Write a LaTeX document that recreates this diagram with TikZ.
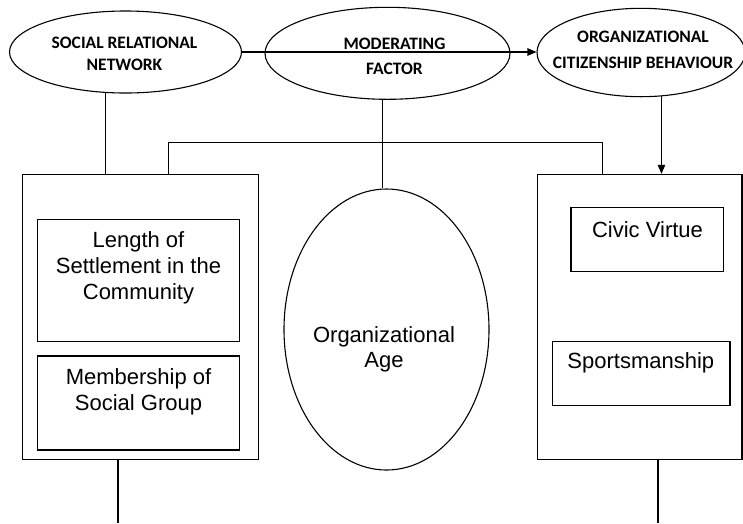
\documentclass[tikz,border=0pt]{standalone}
\usepackage{fontspec}
\setmainfont{Liberation Sans}
\newfontfamily\headfont{Carlito}
\usetikzlibrary{shapes.geometric,arrows.meta}

\begin{document}
\begin{tikzpicture}[x=1pt,y=-1pt,
  line width=1.1pt,
  oval/.style={ellipse, draw, inner sep=0pt},
  frame/.style={rectangle, draw, inner sep=0pt},
  heading/.style={font=\headfont\bfseries\fontsize{17.5}{#1}\selectfont, align=center, inner sep=0pt},
  heading/.default=25,
  body/.style={font=\fontsize{22}{25.8}\selectfont, align=center, inner sep=0pt},
  tip/.style={-{Triangle[length=9pt,width=7.5pt]}}
]
\useasboundingbox (0,0) rectangle (743,523);

% top row of concepts
\node[oval, minimum width=232pt, minimum height=82pt] (srn) at (125.5,52) {};
\node[oval, minimum width=245pt, minimum height=92pt] (mf) at (387.5,53.3) {};
\node[oval, minimum width=208pt, minimum height=88.4pt] (ocb) at (641,52.5) {};
\node[heading=22.6] (srnt) at (124.5,54) {SOCIAL RELATIONAL\\NETWORK};
\node[heading=25.7] (mft) at (394.5,56.2) {MODERATING\\FACTOR};
\node[heading=26.6] (ocbt) at (643,50) {ORGANIZATIONAL\\CITIZENSHIP BEHAVIOUR};

% moderator
\node[oval, minimum width=205pt, minimum height=281pt] (age) at (386.5,329.5) {};
\node[body] (aget) at (384,349.4) {Organizational\\Age};

% left group
\node[frame, minimum width=236pt, minimum height=284.7pt] (lbox) at (140.7,316.7) {};
\node[frame, minimum width=202.4pt, minimum height=122.4pt] (len) at (138.5,280.5) {};
\node[frame, minimum width=202.4pt, minimum height=94pt] (mem) at (138.5,403) {};
\node[body] (lent) at (138.5,268) {Length of\\Settlement in the\\Community};
\node[body] (memt) at (138.5,391.4) {Membership of\\Social Group};

% right group
\node[frame, minimum width=204.3pt, minimum height=284.7pt] (rbox) at (639.85,316.7) {};
\node[frame, minimum width=152.7pt, minimum height=64.4pt] (civ) at (647.35,239.5) {};
\node[frame, minimum width=177.7pt, minimum height=64pt] (spo) at (641.15,373.3) {};
\node[body] (civt) at (647.5,229.9) {Civic Virtue};
\node[body] (spot) at (640.8,362.9) {Sportsmanship};

% connectors
\coordinate (ba) at (168.3,142.3);
\coordinate (bb) at (602.3,142.3);
\coordinate (le) at (118,523);
\coordinate (re) at (658,523);

\draw[tip] (srn.east) -- (srn.east -| ocb.west);
\draw (srn.244.24) -- (srn.244.24 |- lbox.north);
\draw (mf.264.4) -- (mf.264.4 |- age.north);
\draw[tip] (ocb.295.3) -- (ocb.295.3 |- rbox.north);
\draw (ba |- lbox.north) -- (ba) -- (bb) -- (bb |- rbox.north);
\draw (lbox.south -| le) -- (le);
\draw (rbox.south -| re) -- (re);
\end{tikzpicture}
\end{document}
